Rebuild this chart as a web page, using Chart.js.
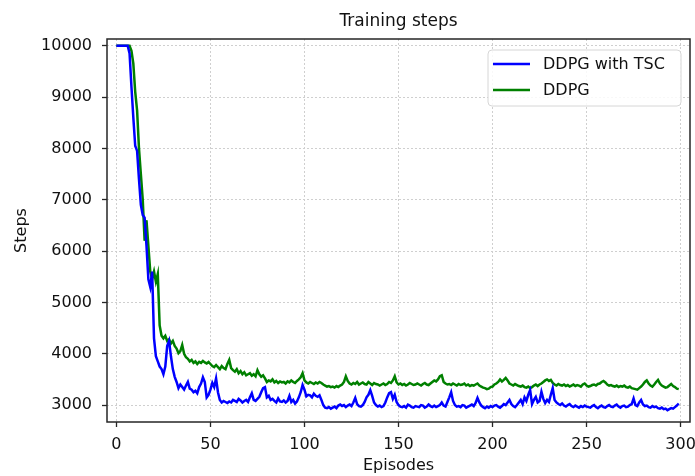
<!DOCTYPE html>
<html lang="en">
<head>
  <meta charset="utf-8">
  <script src="https://cdn.jsdelivr.net/npm/chart.js@4.4.1/dist/chart.umd.min.js"></script>
  <style>
    body { margin: 0; background: #fff; }
    #chart { display: block; }
  </style>
</head>
<body>
  <canvas id="chart" width="695" height="476"></canvas>

  <script>
    // one value per episode
    const seriesNames = ['DDPG with TSC', 'DDPG'];
    const xTicks = [0, 50, 100, 150, 200, 250, 300];
    const yTicks = [3000, 4000, 5000, 6000, 7000, 8000, 9000, 10000];

    const tscSteps = [
      10000,10000,10000,10000,10000,10000,10000,9850,9200,8600,
      8050,7950,7400,6900,6700,6650,6100,5450,5300,5600,
      4300,3950,3850,3750,3700,3600,3750,4150,4250,3950,
      3700,3550,3450,3330,3400,3350,3300,3380,3450,3320,
      3300,3250,3280,3230,3350,3420,3540,3450,3150,3200,
      3300,3430,3350,3520,3250,3100,3050,3080,3060,3040,
      3070,3050,3100,3080,3060,3120,3090,3050,3080,3100,
      3060,3150,3230,3100,3080,3120,3160,3250,3330,3350,
      3150,3180,3100,3120,3080,3050,3130,3070,3060,3090,
      3050,3080,3180,3060,3100,3030,3070,3150,3250,3390,
      3300,3170,3200,3190,3150,3220,3180,3160,3190,3100,
      3000,2950,2940,2960,2930,2950,2970,2940,2990,3010,
      2980,3000,2960,2990,3010,2980,3050,3140,3020,2980,
      2970,3000,3060,3150,3200,3290,3180,3050,3000,2970,
      2990,2960,2980,3050,3150,3230,3250,3120,3200,3060,
      3000,2970,2960,2980,2950,3010,2990,2960,2950,2980,
      2970,2960,3000,2990,2950,2970,3010,2980,2960,2990,
      2960,2980,3000,3050,2990,2970,3060,3150,3250,3080,
      3000,2970,2980,2960,3000,2990,2950,2970,2990,3010,
      2980,3040,3140,3050,2990,2960,2940,2970,2950,2980,
      2960,2990,3000,2970,2950,2980,3020,3000,3050,3100,
      3020,2980,2960,3000,3050,3100,3020,3150,3080,3200,
      3290,3020,3100,3160,3050,3080,3260,3120,3040,3100,
      3060,3200,3330,3100,3050,3020,3000,3030,2990,2970,
      3000,3020,2980,2960,2990,2970,2950,2980,2960,2990,
      2970,2960,2950,2980,3000,2960,2940,2970,2990,2960,
      2950,2980,3000,2970,2960,2990,3010,2970,2950,2980,
      2990,2960,2970,3000,3020,3130,3000,2980,3050,3100,
      3010,2980,2990,2960,2950,2980,2960,2970,2940,2930,
      2950,2920,2930,2900,2920,2940,2930,2960,2990,3030
    ];

    const ddpgSteps = [
      10000,10000,10000,10000,10000,10000,10000,10000,9900,9650,
      9100,8740,8000,7500,7000,6200,6600,6100,5600,5450,
      5600,5400,5550,4550,4350,4300,4350,4250,4280,4200,
      4250,4150,4100,4010,4050,4170,4000,3930,3900,3850,
      3880,3820,3850,3800,3840,3820,3860,3830,3810,3840,
      3800,3760,3740,3780,3740,3700,3760,3720,3700,3800,
      3880,3720,3680,3650,3700,3620,3660,3600,3640,3580,
      3600,3620,3570,3600,3560,3680,3600,3550,3580,3520,
      3450,3480,3460,3500,3440,3470,3430,3460,3440,3450,
      3420,3460,3440,3480,3450,3430,3470,3500,3540,3620,
      3480,3440,3420,3450,3430,3410,3440,3420,3450,3430,
      3400,3380,3360,3370,3350,3360,3340,3370,3350,3380,
      3400,3450,3560,3470,3420,3400,3430,3410,3450,3400,
      3420,3440,3410,3400,3450,3420,3390,3430,3410,3400,
      3380,3400,3420,3390,3410,3450,3430,3480,3560,3440,
      3400,3420,3390,3410,3380,3400,3430,3410,3390,3400,
      3420,3400,3380,3410,3430,3400,3390,3420,3450,3480,
      3460,3500,3560,3580,3450,3420,3400,3410,3390,3420,
      3400,3380,3410,3390,3400,3420,3380,3400,3370,3390,
      3380,3400,3420,3380,3360,3340,3330,3310,3320,3350,
      3360,3400,3420,3450,3500,3460,3490,3530,3480,3420,
      3400,3380,3410,3390,3370,3360,3380,3350,3340,3360,
      3330,3350,3380,3400,3370,3400,3420,3450,3480,3500,
      3470,3490,3430,3400,3380,3410,3390,3380,3400,3370,
      3390,3360,3380,3400,3370,3390,3380,3360,3400,3420,
      3380,3360,3370,3390,3400,3380,3410,3420,3450,3470,
      3440,3400,3380,3390,3370,3360,3380,3350,3370,3360,
      3380,3350,3340,3360,3330,3320,3310,3300,3330,3360,
      3400,3450,3480,3420,3380,3360,3400,3450,3490,3420,
      3380,3360,3340,3350,3380,3410,3370,3350,3320,3310
    ];

    const episodes = tscSteps.map((v, i) => i);

    const FONT = 'DejaVu Sans';
    const INK = '#262626';

    // title, axes frame and boxed legend, drawn like matplotlib does
    const mplLook = {
      id: 'mplLook',
      afterDraw(chart) {
        const ctx = chart.ctx;
        const a = chart.chartArea;
        ctx.save();
        ctx.strokeStyle = INK;
        ctx.lineWidth = 1.5;
        ctx.strokeRect(a.left, a.top, a.right - a.left, a.bottom - a.top);

        ctx.fillStyle = '#111';
        ctx.font = '17px ' + FONT;
        ctx.textAlign = 'center';
        ctx.textBaseline = 'middle';
        ctx.fillText('Training steps', (a.left + a.right) / 2, 22);

        // legend
        const bx = 488, by = 50, bw = 193, bh = 56, r = 4;
        ctx.beginPath();
        ctx.moveTo(bx + r, by);
        ctx.arcTo(bx + bw, by, bx + bw, by + bh, r);
        ctx.arcTo(bx + bw, by + bh, bx, by + bh, r);
        ctx.arcTo(bx, by + bh, bx, by, r);
        ctx.arcTo(bx, by, bx + bw, by, r);
        ctx.closePath();
        ctx.fillStyle = 'rgba(255,255,255,0.85)';
        ctx.fill();
        ctx.strokeStyle = '#d6d6d6';
        ctx.lineWidth = 1;
        ctx.stroke();

        ctx.font = '16px ' + FONT;
        ctx.textAlign = 'left';
        chart.data.datasets.forEach((ds, i) => {
          const y = 64 + i * 26;
          ctx.strokeStyle = ds.borderColor;
          ctx.lineWidth = 2.5;
          ctx.beginPath();
          ctx.moveTo(493, y);
          ctx.lineTo(530, y);
          ctx.stroke();
          ctx.fillStyle = '#111';
          ctx.fillText(ds.label, 543, y + 1);
        });
        ctx.restore();
      }
    };

    const keepTicks = list => scale => {
      scale.ticks = list.map(v => ({ value: v }));
    };

    new Chart(document.getElementById('chart'), {
      type: 'line',
      data: {
        datasets: [
          {
            label: seriesNames[0],
            data: episodes.map((e, i) => ({ x: e, y: tscSteps[i] })),
            borderColor: '#0000ff',
            borderWidth: 2.5,
            pointRadius: 0,
            tension: 0
          },
          {
            label: seriesNames[1],
            data: episodes.map((e, i) => ({ x: e, y: ddpgSteps[i] })),
            borderColor: '#008000',
            borderWidth: 2.5,
            pointRadius: 0,
            tension: 0
          }
        ]
      },
      options: {
        responsive: false,
        animation: false,
        layout: { padding: { top: 39, right: 5, left: 0, bottom: 0 } },
        plugins: {
          legend: { display: false },
          tooltip: { enabled: false }
        },
        scales: {
          x: {
            type: 'linear',
            min: -5,
            max: 305,
            afterBuildTicks: keepTicks(xTicks),
            afterFit: s => {
              s.height = 54;
              s.paddingLeft = 0;
              s.paddingRight = 0;
            },
            grid: {
              color: '#cfcfcf',
              lineWidth: 1,
              tickColor: INK,
              tickLength: 5,
              tickWidth: 1.3
            },
            border: { display: false, dash: [2, 2] },
            ticks: {
              padding: 8,
              color: '#111',
              font: { family: FONT, size: 16 },
              maxRotation: 0
            },
            title: {
              display: true,
              text: 'Episodes',
              color: '#111',
              font: { family: FONT, size: 16 },
              padding: { top: 0, bottom: 1 }
            }
          },
          y: {
            min: 2670,
            max: 10130,
            afterBuildTicks: keepTicks(yTicks),
            afterFit: s => {
              s.width = 107;
              s.paddingTop = 0;
              s.paddingBottom = 0;
            },
            grid: {
              color: '#cfcfcf',
              lineWidth: 1,
              tickColor: INK,
              tickLength: 5,
              tickWidth: 1.3
            },
            border: { display: false, dash: [2, 2] },
            ticks: {
              padding: 10,
              color: '#111',
              font: { family: FONT, size: 16 },
              callback: v => String(v)
            },
            title: {
              display: true,
              text: 'Steps',
              color: '#111',
              font: { family: FONT, size: 16 },
              padding: { top: 12, bottom: 0 }
            }
          }
        }
      },
      plugins: [mplLook]
    });
  </script>
</body>
</html>
